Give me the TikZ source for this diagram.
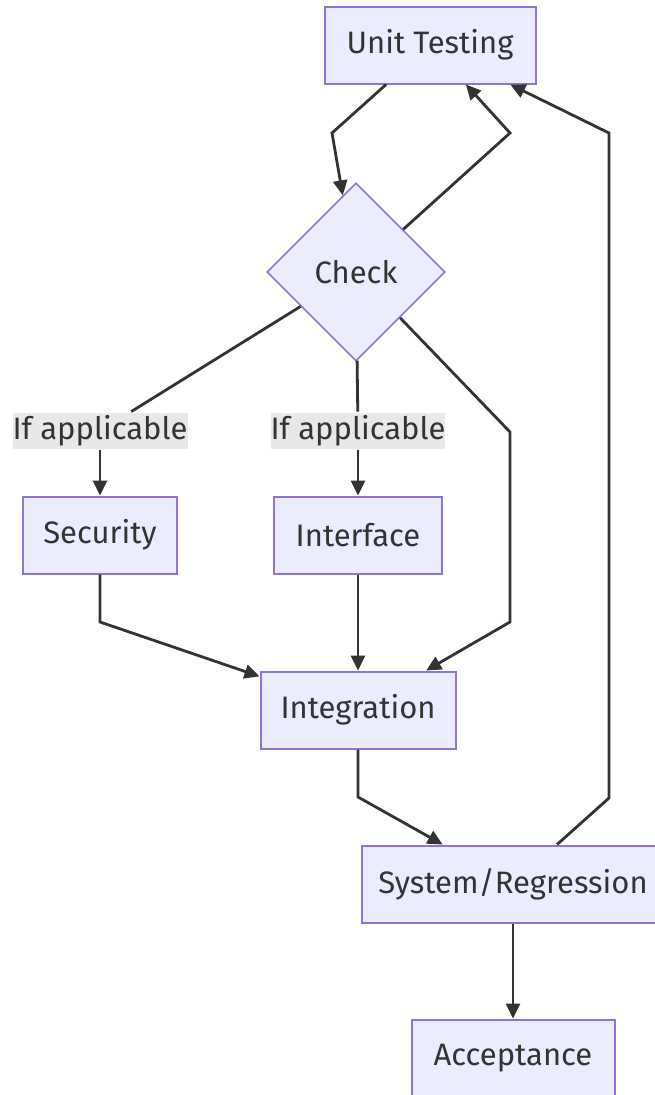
\documentclass[tikz,border=0pt]{standalone}
\usepackage{fontspec}
\setmainfont{Fira Sans}
\usetikzlibrary{arrows.meta,shapes.geometric}

\definecolor{boxfill}{HTML}{ECECFF}
\definecolor{boxline}{HTML}{9370DB}
\definecolor{edgeline}{HTML}{333333}
\definecolor{labelfill}{HTML}{E8E8E8}

\begin{document}
\begin{tikzpicture}[x=1pt,y=-1pt,->,>={Triangle[length=15pt,width=14pt]},shorten >=0pt,
  line width=2.8pt,draw=edgeline,
  main node/.style={rectangle,fill=boxfill,draw=boxline,line width=2pt,
    text=edgeline,font=\fontsize{31}{36}\selectfont,minimum height=77pt,inner sep=0pt},
  check node/.style={diamond,fill=boxfill,draw=boxline,line width=1.6pt,
    text=edgeline,font=\fontsize{31}{36}\selectfont,minimum width=178pt,minimum height=178pt,inner sep=0pt},
  label node/.style={fill=labelfill,text=edgeline,font=\fontsize{31}{36}\selectfont,
    minimum width=175pt,minimum height=36pt,inner sep=0pt}]

  \useasboundingbox (0,0) rectangle (655,1095);

  \node[main node,minimum width=211pt] (unit) at (430,45) {Unit Testing};
  \node[check node] (chk) at (356,272) {Check};
  \node[label node] (lab1) at (100,431) {If applicable};
  \node[label node,minimum width=173pt] (lab2) at (358,431) {If applicable};
  \node[main node,minimum width=154pt] (sec) at (100,535) {Security};
  \node[main node,minimum width=168pt] (ifc) at (358,535) {Interface};
  \node[main node,minimum width=195pt] (intg) at (358,710) {Integration};
  \node[main node,minimum width=302pt] (sys) at (513,884) {System/Regression};
  \node[main node,minimum width=203pt] (acc) at (513,1058) {Acceptance};

  % bend points
  \coordinate (b1) at (332,133);
  \coordinate (b2) at (510,133);
  \coordinate (b3) at (609,798);
  \coordinate (b4) at (609,133);
  \coordinate (b5) at (510,432);
  \coordinate (b6) at (510,622);
  \coordinate (b7) at (100,622);
  \coordinate (b8) at (358,797);

  \draw (unit) -- (b1) -- (chk);
  \draw (chk) -- (b2) -- (unit);
  \draw (sys) -- (b3) -- (b4) -- (unit);
  \draw[-] (chk) -- (lab1);
  \draw (lab1) -- (sec);
  \draw[-] (chk) -- (lab2);
  \draw (lab2) -- (ifc);
  \draw (chk) -- (b5) -- (b6) -- (intg);
  \draw (sec) -- (b7) -- (intg);
  \draw (ifc) -- (intg);
  \draw (intg) -- (b8) -- (sys);
  \draw (sys) -- (acc);
\end{tikzpicture}
\end{document}
